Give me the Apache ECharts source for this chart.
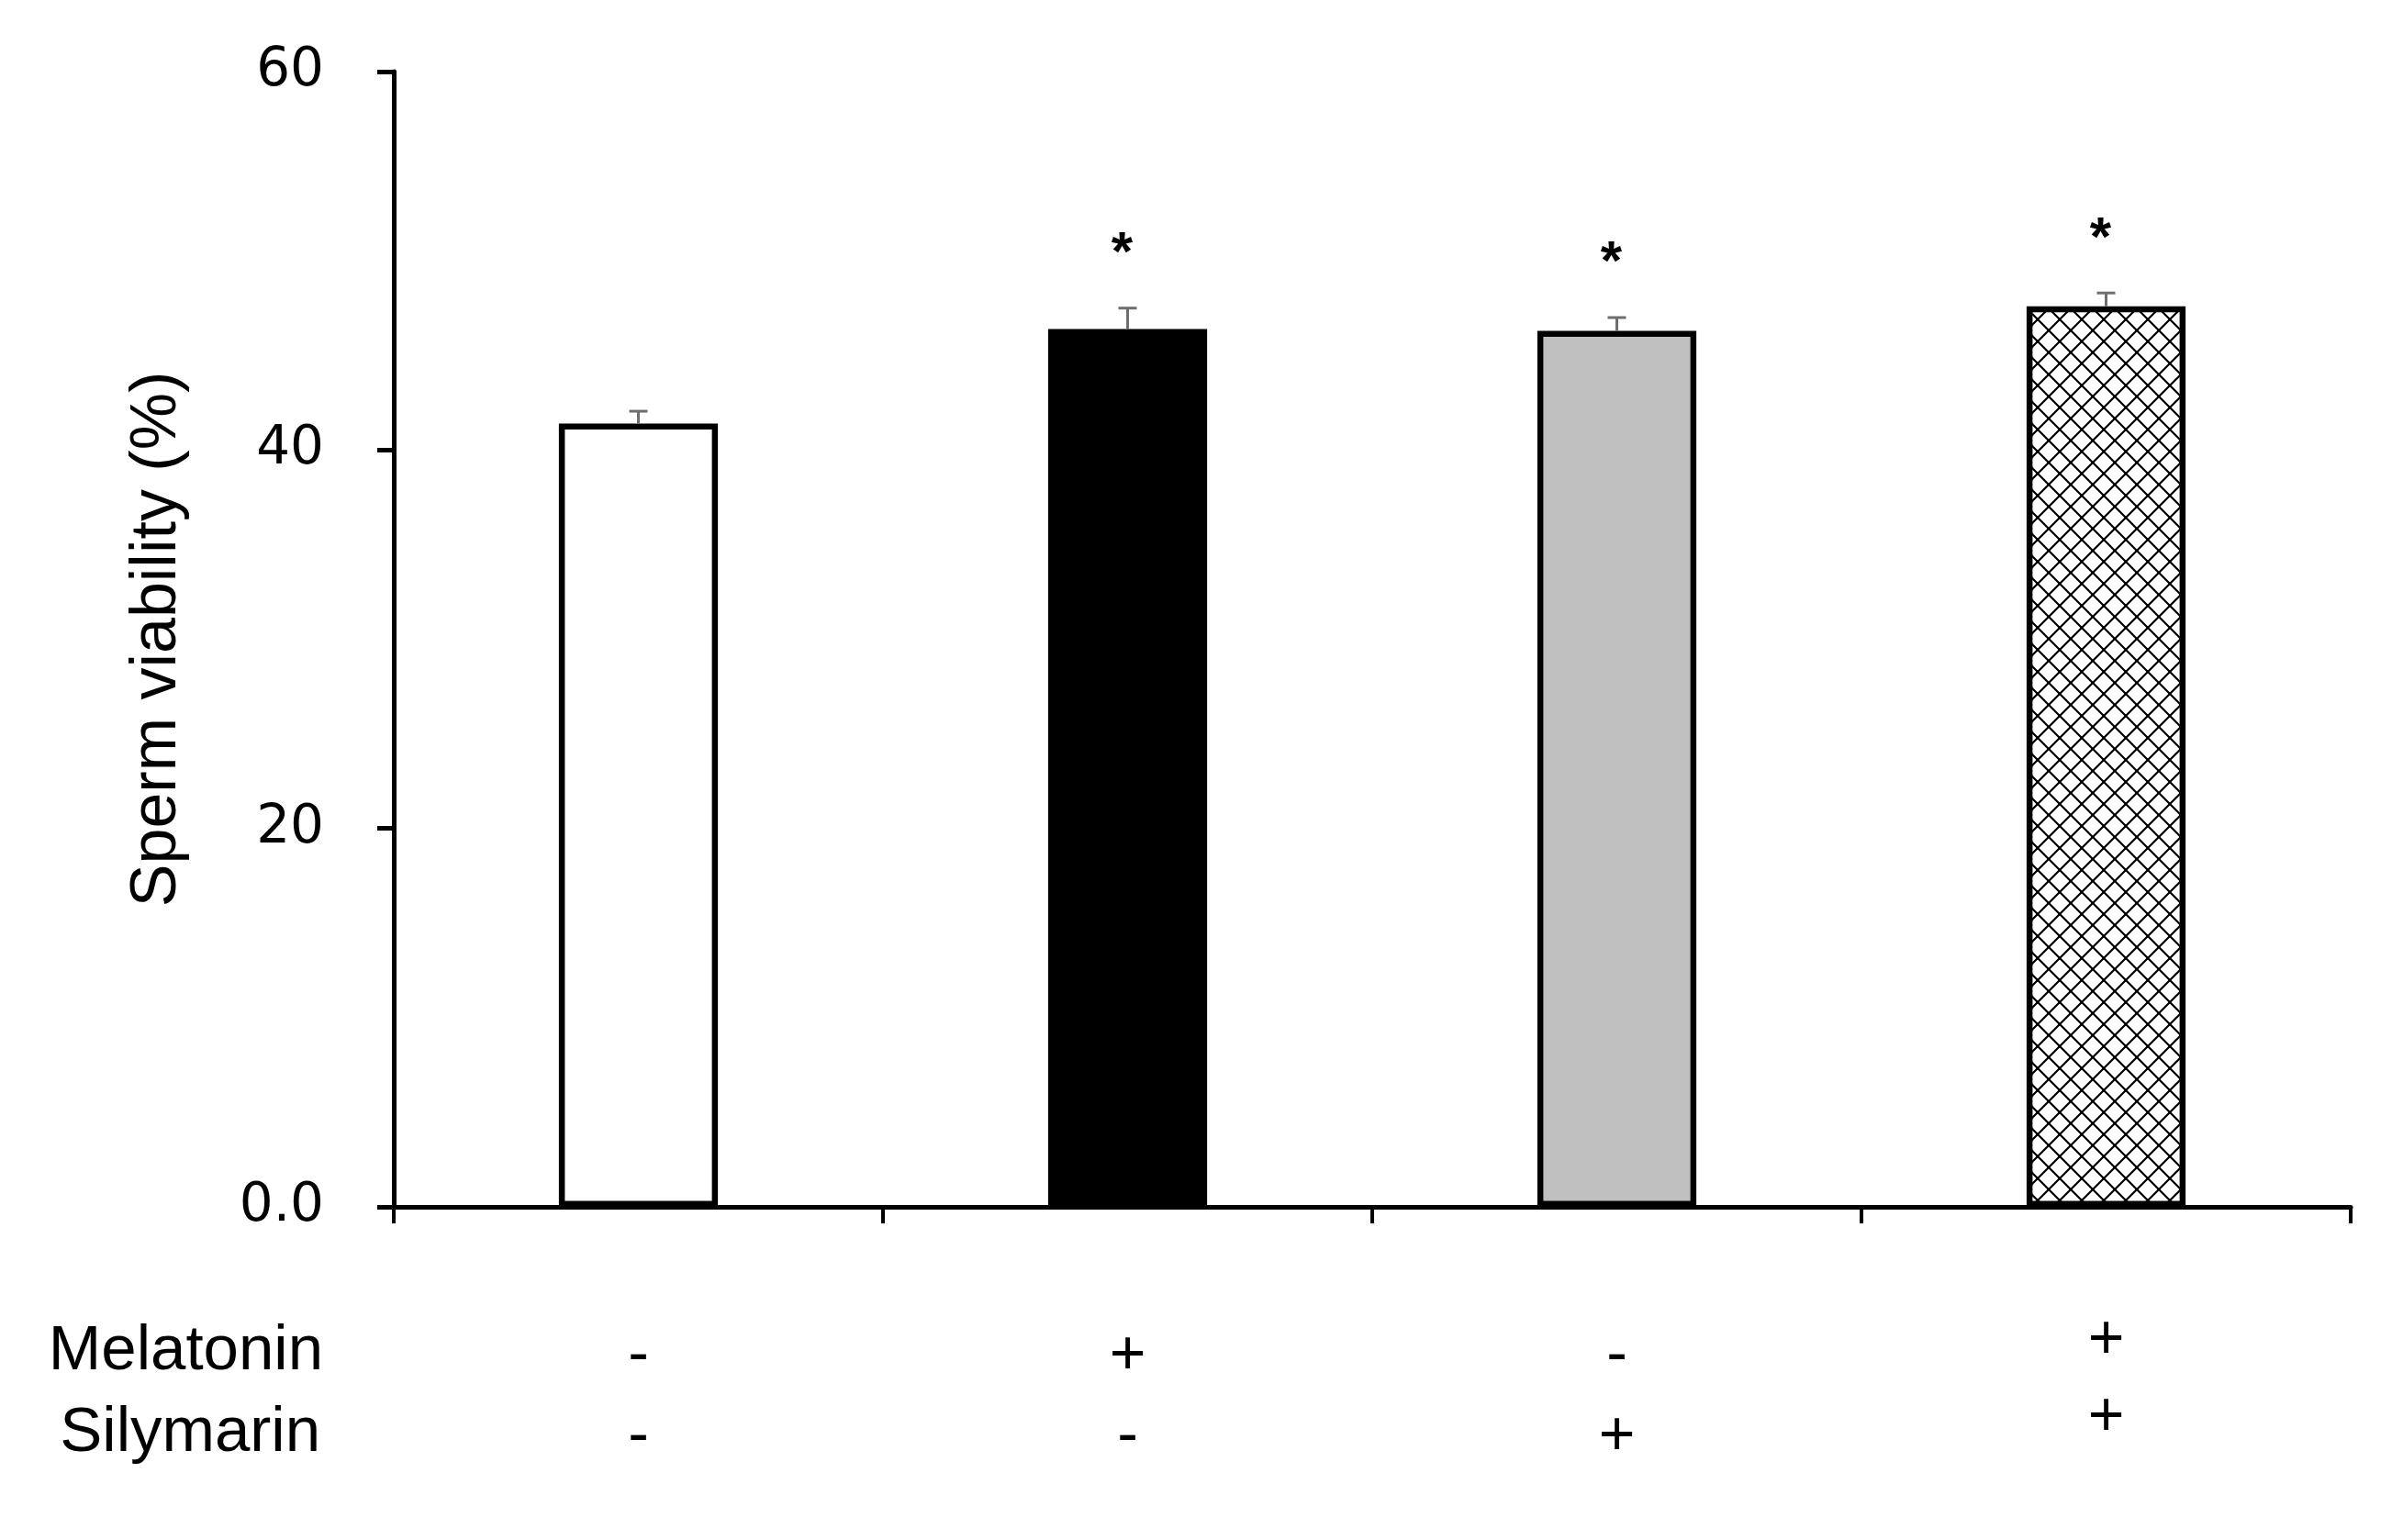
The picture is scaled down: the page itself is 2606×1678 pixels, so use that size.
<!DOCTYPE html>
<html>
    <head>
        <meta charset="utf-8">
        <script src="https://cdn.jsdelivr.net/npm/echarts@6/dist/echarts.min.js"></script>
        <style type="text/css">
            #main {height:100%;width:100%;position:absolute;}
            body {margin:0px;padding:0px;overflow:hidden;background:#fff;}
        </style>
    </head>
    <body>
        <div id="main"></div>
        <script type="text/javascript">
            // data
            let groups = ['Control', 'Melatonin', 'Silymarin', 'Melatonin+Silymarin'];
            let melatonin = ['-', '+', '-', '+'];
            let silymarin = ['-', '-', '+', '+'];
            let viability = [41.4, 46.4, 46.3, 47.6];
            let viabilitySE = [0.65, 1.1, 0.7, 0.7];
            let starY = [null, 50.9, 50.4, 51.7];
            let yTicks = [0, 20, 40, 60];

            let font = '"Liberation Sans", Arial, sans-serif';
            let wideFont = '"DejaVu Sans", sans-serif';

            // cross hatch for the last bar
            function hatch() {
                let c = document.createElement('canvas');
                c.width = 24; c.height = 24;
                let ctx = c.getContext('2d');
                ctx.fillStyle = '#fff';
                ctx.fillRect(0, 0, 24, 24);
                ctx.strokeStyle = '#000';
                ctx.lineWidth = 2.2;
                ctx.beginPath();
                ctx.moveTo(0, 0); ctx.lineTo(24, 24);
                ctx.moveTo(24, 0); ctx.lineTo(0, 24);
                ctx.stroke();
                return c;
            }
            let fills = ['#ffffff', '#000000', '#c0c0c0', {image: hatch(), repeat: 'repeat'}];

            let myChart = echarts.init(document.getElementById('main'));
            let option = {
                animation: false,
                backgroundColor: '#fff',
                grid: {left: 429, right: 45, top: 78, bottom: 363},
                xAxis: {
                    type: 'category',
                    data: groups.map(function (g, i) {
                        return i === 3 ? {value: g, textStyle: {padding: [7, 0, 0, 0], lineHeight: 84}} : g;
                    }),
                    axisLine: {lineStyle: {color: '#000', width: 5}},
                    axisTick: {show: true, length: 18, lineStyle: {color: '#000', width: 4}},
                    axisLabel: {
                        interval: 0,
                        margin: 97,
                        padding: [22, 0, 0, 0],
                        color: '#000',
                        fontFamily: font,
                        fontSize: 68,
                        lineHeight: 88,
                        formatter: function (v, i) {
                            return melatonin[i] + '\n' + silymarin[i];
                        }
                    }
                },
                yAxis: {
                    type: 'value',
                    min: yTicks[0],
                    max: yTicks[yTicks.length - 1],
                    interval: 20,
                    name: 'Sperm viability (%)',
                    nameLocation: 'middle',
                    nameGap: 222,
                    nameTextStyle: {color: '#000', fontFamily: font, fontSize: 70},
                    splitLine: {show: false},
                    axisLine: {show: true, lineStyle: {color: '#000', width: 5}},
                    axisTick: {show: true, inside: false, length: 18, lineStyle: {color: '#000', width: 5}},
                    axisLabel: {
                        margin: 76,
                        color: '#000',
                        fontFamily: wideFont,
                        fontSize: 58,
                        formatter: function (v) {
                            return v === 0 ? '0.0' : String(v);
                        }
                    }
                },
                graphic: [
                    {type: 'text', x: 352, y: 1473, style: {text: 'Melatonin', font: '69px ' + font, fill: '#000', align: 'right', verticalAlign: 'middle'}},
                    {type: 'text', x: 349, y: 1562, style: {text: 'Silymarin', font: '69px ' + font, fill: '#000', align: 'right', verticalAlign: 'middle'}}
                ],
                series: [
                    {
                        type: 'bar',
                        barWidth: '32.5%',
                        data: viability.map(function (v, i) {
                            return {value: v, itemStyle: {color: fills[i]}};
                        }),
                        itemStyle: {borderColor: '#000', borderWidth: 6.5}
                    },
                    {
                        type: 'custom',
                        z: 5,
                        data: viability.map(function (v, i) { return [i, v, viabilitySE[i], starY[i]]; }),
                        renderItem: function (params, api) {
                            let i = api.value(0);
                            let base = api.coord([i, api.value(1)]);
                            let top = api.coord([i, api.value(1) + api.value(2)]);
                            let kids = [
                                {type: 'line', shape: {x1: base[0], y1: base[1], x2: top[0], y2: top[1]}, style: {stroke: '#6e6e6e', lineWidth: 3}},
                                {type: 'line', shape: {x1: top[0] - 10, y1: top[1], x2: top[0] + 10, y2: top[1]}, style: {stroke: '#6e6e6e', lineWidth: 3}}
                            ];
                            let s = starY[i];
                            if (s != null) {
                                let p = api.coord([i, s]);
                                kids.push({type: 'text', x: p[0] - 6, y: p[1] + 12, style: {text: '*', font: 'bold 60px ' + font, fill: '#000', align: 'center', verticalAlign: 'middle'}});
                            }
                            return {type: 'group', children: kids};
                        }
                    }
                ]
            };
            myChart.setOption(option);
            window.onresize = myChart.resize;
        </script>
    </body>
</html>
